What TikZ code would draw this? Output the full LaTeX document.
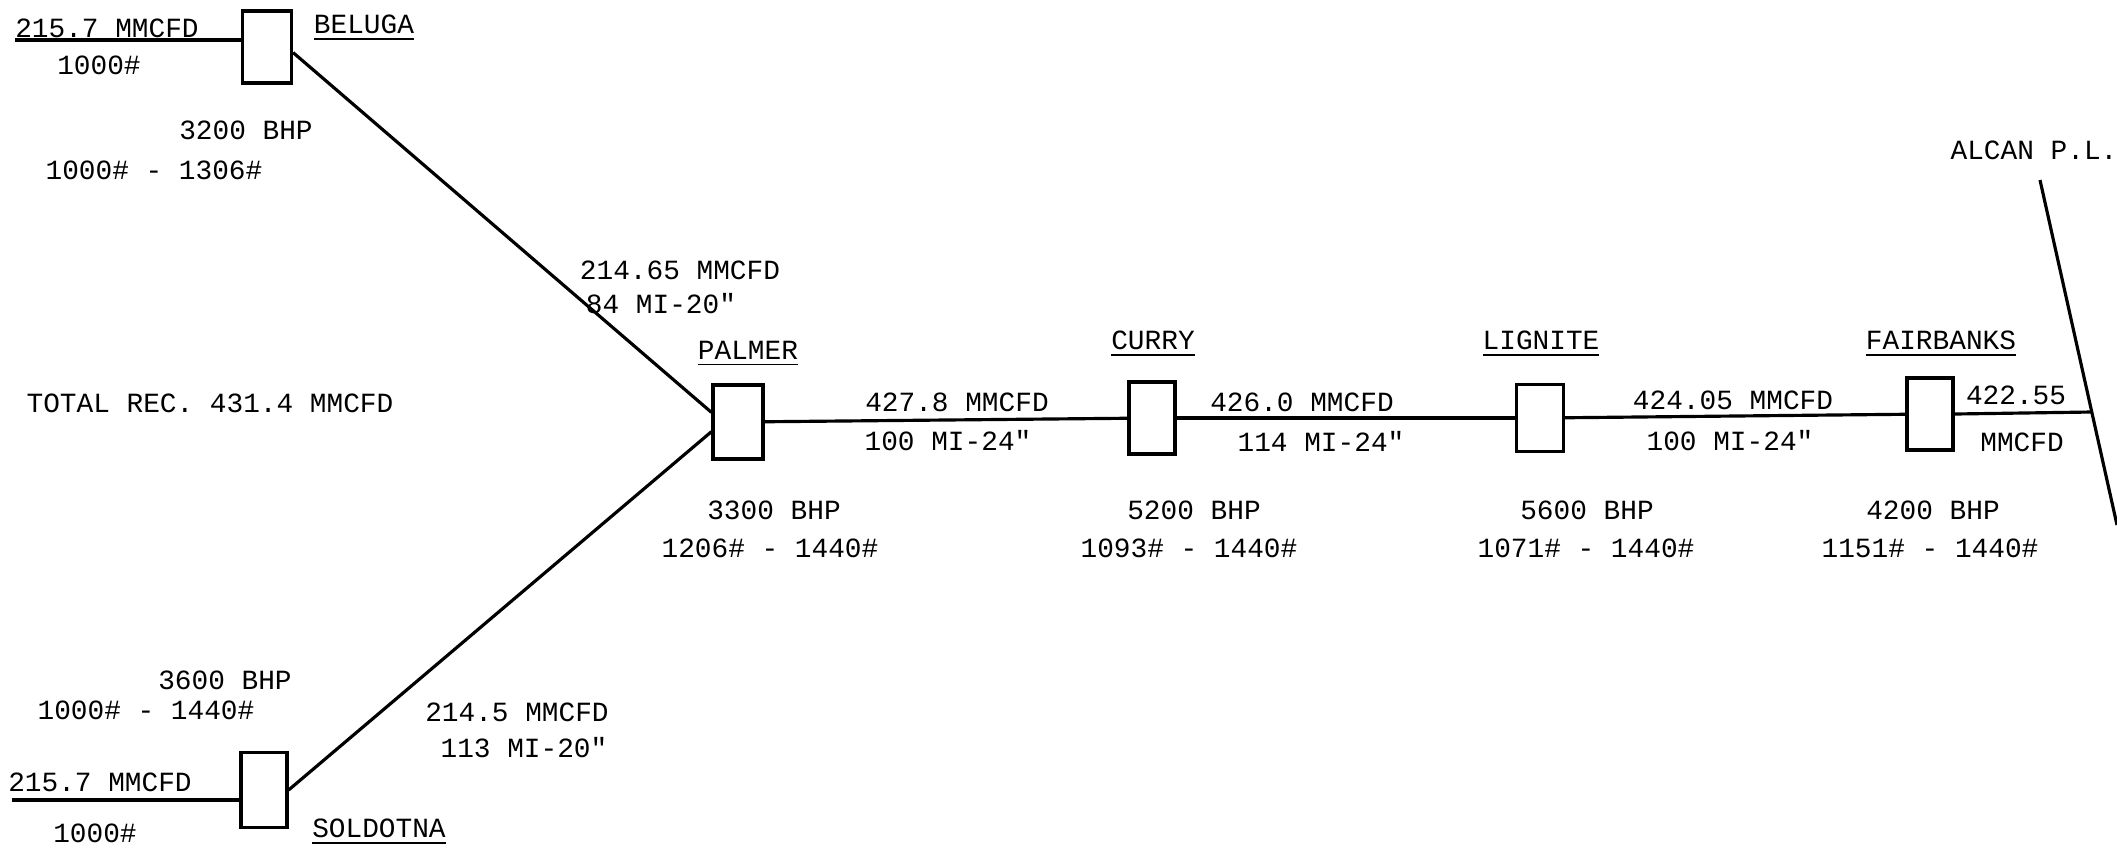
\documentclass[tikz,border=0pt]{standalone}
\usepackage{fontspec}
\newfontfamily\typew{Liberation Mono}
\newcommand{\tw}{\typew\fontsize{7.9}{9.5}\selectfont}

\begin{document}
\begin{tikzpicture}[x=0.01cm,y=-0.01cm,font=\tw,
  station/.style={draw,line width=0.9pt,inner sep=0pt},
  pipe/.style={line width=0.9pt},
  txt/.style={inner sep=1pt}]
  \useasboundingbox (0,0) rectangle (2117,850);
  \foreach \n/\x/\y/\w/\h in {beluga/267/47/.49/.72,soldotna/264/790/.46/.75,palmer/738/422/.5/.74,curry/1152/418/.46/.72,lignite/1540/418/.47/.67,fairbanks/1930/414/.46/.72}{
    \node[station,minimum width=\w cm,minimum height=\h cm] (\n) at (\x,\y) {};
  }
  \foreach \n/\x/\y/\t in {beluganame/364/28/BELUGA,soldotnaname/379/832/SOLDOTNA,palmername/748/354/PALMER,curryname/1153/344/CURRY,lignitename/1541/344/LIGNITE,fairbanksname/1941/344/FAIRBANKS}{
    \node[txt] (\n) at (\x,\y) {\underline{\t}};
  }
  \foreach \n/\x/\y/\t in {belin/107/28/{215.7 MMCFD},belinp/99/65/{1000\#},belhp/246/130/{3200 BHP},belpr/154/170/{1000\# - 1306\#},
      solhp/225/680/{3600 BHP},solpr/146/710/{1000\# - 1440\#},solin/100/782/{215.7 MMCFD},solinp/95/833/{1000\#},
      total/210/403/{TOTAL REC. 431.4 MMCFD},
      belq/680/270/{214.65 MMCFD},belmi/661/304/{84 MI-20"},solq/517/712/{214.5 MMCFD},solmi/524/748/{113 MI-20"},
      palq/957/402/{427.8 MMCFD},palmi/948/441/{100 MI-24"},palhp/774/510/{3300 BHP},palpr/770/548/{1206\# - 1440\#},
      curq/1302/402/{426.0 MMCFD},curmi/1321/441/{114 MI-24"},curhp/1194/510/{5200 BHP},curpr/1189/548/{1093\# - 1440\#},
      ligq/1733/400/{424.05 MMCFD},ligmi/1730/441/{100 MI-24"},lighp/1587/510/{5600 BHP},ligpr/1586/548/{1071\# - 1440\#},
      faiq/2016/395/{422.55},faiu/2022/442/{MMCFD},faihp/1933/510/{4200 BHP},faipr/1930/548/{1151\# - 1440\#},
      alcan/2034/150/{ALCAN P.L.}}{
    \node[txt] (\n) at (\x,\y) {\t};
  }
  \coordinate (belsrc) at (15,40);
  \coordinate (solsrc) at (12,800);
  \coordinate (alcantop) at (2040,180);
  \coordinate (alcanbot) at (2117,525);
  \coordinate (alcanjn) at (2091,412);
  \draw[pipe] (belsrc) -- (belsrc -| beluga.west);
  \draw[pipe] (solsrc) -- (solsrc -| soldotna.west);
  \draw[pipe] (beluga.-12) -- (palmer.160);
  \draw[pipe] (soldotna.east) -- (palmer.200);
  \draw[pipe] (palmer) -- (curry);
  \draw[pipe] (curry) -- (lignite);
  \draw[pipe] (lignite) -- (fairbanks);
  \draw[pipe] (fairbanks.east) -- (alcanjn);
  \draw[pipe] (alcantop) -- (alcanbot);
\end{tikzpicture}
\end{document}
